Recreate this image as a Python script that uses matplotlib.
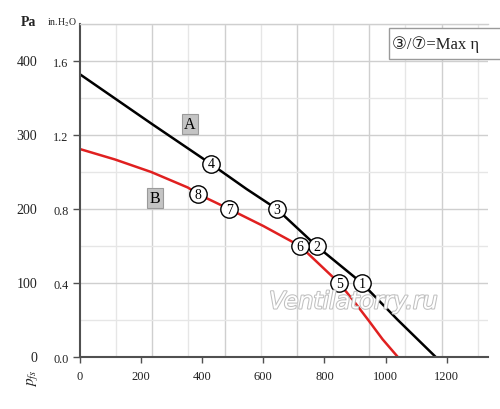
import numpy as np
import matplotlib
matplotlib.use('Agg')
from matplotlib import pyplot as plt
from matplotlib import patheffects as pe
from matplotlib.patches import Rectangle
from matplotlib.transforms import blended_transform_factory

plt.rcParams['font.family'] = ['Liberation Serif', 'DejaVu Serif', 'DejaVu Sans', 'Noto Sans CJK SC']

# curve A (black) and curve B (red), flow vs static pressure (Pa)
a_flow = [0, 235, 428, 545, 644, 774, 922, 1040, 1164]
a_pres = [382, 315, 261, 227, 200, 150, 100, 50, 0]
b_flow = [0, 114, 233, 353, 387, 488, 600, 720, 848, 895, 945, 990, 1040]
b_pres = [281, 267, 250, 229, 220, 200, 177, 150, 100, 76, 49, 24, 0]

# numbered operating points
pt_labels = ['1', '2', '3', '4', '5', '6', '7', '8']
pt_flow = [922, 774, 644, 428, 848, 720, 488, 387]
pt_pres = [100, 150, 200, 261, 100, 150, 200, 220]

x_ticks = [0, 200, 400, 600, 800, 1000, 1200]
pa_ticks = [0, 100, 200, 300, 400]
inh2o_labels = ['0.0', '0.4', '0.8', '1.2', '1.6']

fig = plt.figure(figsize=(5, 4.1), dpi=100)
ax = fig.add_axes([0.16, 0.1268, 0.816, 0.8122])
ax.set_xlim(0, 1335)
ax.set_ylim(0, 450)

# grid
for i, gx in enumerate(np.arange(1, 12) * 118.3):
    ax.axvline(gx, color='#cfcfcf' if i % 2 else '#e6e6e6', lw=1, zorder=0)
for gy in range(50, 451, 50):
    ax.axhline(gy, color='#cfcfcf' if gy % 100 == 0 else '#e6e6e6', lw=1, zorder=0)

ax.plot(a_flow, a_pres, color='black', lw=1.8, zorder=2, solid_joinstyle='round')
ax.plot(b_flow, b_pres, color='#e02020', lw=1.8, zorder=2, solid_joinstyle='round')

ax.plot(pt_flow, pt_pres, 'o', ms=12.5, mfc='white', mec='black', mew=1, zorder=3)
for lab, fx, py in zip(pt_labels, pt_flow, pt_pres):
    ax.text(fx, py, lab, ha='center', va='center', fontsize=10, zorder=4)

box = dict(boxstyle='square,pad=0.15', fc='#c4c4c4', ec='#9a9a9a', lw=0.8)
ax.text(360, 315, 'A', ha='center', va='center', fontsize=11.5, bbox=box, zorder=4)
ax.text(245, 215, 'B', ha='center', va='center', fontsize=11.5, bbox=box, zorder=4)

ax.text(895, 75, 'Ventilatorry.ru', ha='center', va='center', fontsize=17,
        style='italic', family='DejaVu Sans', color='white', zorder=5,
        path_effects=[pe.withStroke(linewidth=1.5, foreground='#c0c0c0')])

# axes styling
ax.spines['right'].set_visible(False)
ax.spines['top'].set_color('#cfcfcf')
ax.spines['top'].set_linewidth(1)
for sp in ['left', 'bottom']:
    ax.spines[sp].set_color('#505050')
    ax.spines[sp].set_linewidth(1.5)

ax.set_xticks(x_ticks)
ax.set_xticklabels([str(v) for v in x_ticks])
ax.set_yticks(pa_ticks)
ax.set_yticklabels(inh2o_labels)
ax.tick_params(axis='y', direction='out', length=4.8, width=1, color='#505050',
               labelsize=8.8, pad=3.5, labelcolor='#222222')
ax.tick_params(axis='x', direction='out', length=4, width=1, color='#505050',
               labelsize=9, pad=5, labelcolor='#222222')

trans = blended_transform_factory(ax.transAxes, ax.transData)
for v in pa_ticks:
    ax.text(-0.105, v, str(v), transform=trans, ha='right', va='center',
            fontsize=10, color='#222222')

fig.text(28.5 / 500, 1 - 22 / 410, 'Pa', ha='center', va='center', fontsize=10,
         weight='bold', color='#222222')
fig.text(61.5 / 500, 1 - 23 / 410, r'in.H$_2$O', ha='center', va='center', fontsize=7,
         color='#222222', math_fontfamily='stix')
fig.text(33 / 500, 1 - 378 / 410, r'$p_{fs}$', ha='center', va='center', fontsize=11,
         rotation=90, color='#222222', math_fontfamily='stix')

# note box, top right
fig.patches.append(Rectangle((389 / 500, 1 - 60 / 410), 120 / 500, 31 / 410,
                             transform=fig.transFigure, fc='white', ec='#9a9a9a', lw=1))
fig.text(392 / 500, 1 - 44.5 / 410, '③/⑦=Max η', ha='left', va='center',
         fontsize=12, color='#222222')

fig.savefig('out.png', dpi=100)
